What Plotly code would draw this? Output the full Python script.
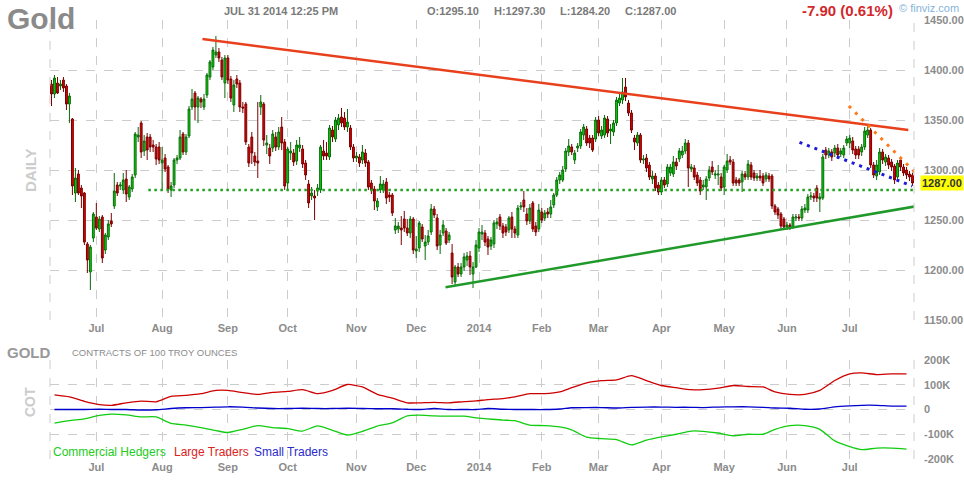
import pandas as pd
import plotly.graph_objects as go

# trading days shown on the chart (weekdays minus exchange holidays)
holidays = ['2013-07-04', '2013-09-02', '2013-11-28', '2013-12-25', '2014-01-01',
            '2014-01-20', '2014-02-17', '2014-04-18', '2014-05-26', '2014-07-04']
dates = pd.bdate_range('2013-06-10', '2014-07-31')
dates = dates[~dates.isin(pd.to_datetime(holidays))]

opens = [1386, 1376, 1387, 1384, 1390, 1384, 1366, 1351, 1277, 1296,
         1282, 1277, 1226, 1198, 1232, 1253, 1241, 1253, 1220, 1233,
         1249, 1264, 1285, 1284, 1280, 1291, 1273, 1281, 1295, 1333,
         1347, 1319, 1333, 1333, 1325, 1323, 1323, 1307, 1312, 1303,
         1280, 1285, 1310, 1312, 1336, 1318, 1334, 1363, 1377, 1363,
         1371, 1363, 1375, 1393, 1403, 1415, 1418, 1410, 1387, 1412,
         1391, 1365, 1391, 1387, 1363, 1366, 1323, 1333, 1314, 1309,
         1363, 1366, 1325, 1322, 1322, 1333, 1323, 1343, 1328, 1287,
         1317, 1317, 1309, 1322, 1321, 1307, 1286, 1274, 1274, 1279,
         1280, 1319, 1317, 1313, 1340, 1331, 1345, 1353, 1352, 1343,
         1342, 1323, 1312, 1313, 1310, 1317, 1308, 1287, 1281, 1263,
         1280, 1280, 1288, 1275, 1275, 1240, 1241, 1242, 1251, 1242,
         1237, 1251, 1219, 1222, 1243, 1224, 1228, 1238, 1261, 1252,
         1225, 1237, 1239, 1230, 1217, 1188, 1203, 1196, 1203, 1210,
         1214, 1196, 1203, 1222, 1236, 1237, 1231, 1224, 1226, 1246,
         1253, 1244, 1243, 1240, 1253, 1241, 1235, 1263, 1270, 1256,
         1249, 1267, 1244, 1241, 1258, 1252, 1258, 1256, 1265, 1275,
         1290, 1290, 1301, 1318, 1323, 1310, 1322, 1324, 1335, 1341,
         1332, 1332, 1331, 1350, 1334, 1335, 1351, 1339, 1338, 1347,
         1367, 1370, 1383, 1367, 1357, 1332, 1327, 1335, 1310, 1312,
         1305, 1291, 1294, 1285, 1278, 1290, 1286, 1297, 1296, 1308,
         1311, 1315, 1319, 1327, 1301, 1302, 1295, 1290, 1283, 1283,
         1292, 1303, 1295, 1295, 1293, 1283, 1300, 1310, 1308, 1290,
         1290, 1288, 1296, 1293, 1305, 1297, 1292, 1294, 1294, 1291,
         1294, 1294, 1264, 1261, 1256, 1251, 1243, 1245, 1243, 1252,
         1253, 1252, 1260, 1260, 1273, 1274, 1282, 1271, 1272, 1320,
         1315, 1318, 1317, 1322, 1316, 1315, 1327, 1327, 1329, 1321,
         1321, 1318, 1323, 1335, 1340, 1305, 1294, 1298, 1318, 1308,
         1312, 1308, 1304, 1293, 1310, 1303, 1300, 1296, 1295.1]

highs = [1390, 1395, 1393, 1390, 1393, 1386, 1377, 1352, 1302, 1300,
         1285, 1278, 1228, 1225, 1258, 1267, 1254, 1255, 1237, 1250,
         1257, 1297, 1288, 1288, 1297, 1300, 1285, 1296, 1338, 1343,
         1349, 1335, 1337, 1336, 1330, 1326, 1328, 1323, 1316, 1305,
         1288, 1312, 1315, 1340, 1338, 1336, 1364, 1381, 1379, 1374,
         1373, 1376, 1397, 1410, 1423, 1434, 1422, 1413, 1415, 1415,
         1394, 1390, 1395, 1390, 1368, 1368, 1326, 1338, 1318, 1368,
         1375, 1368, 1335, 1326, 1340, 1338, 1343, 1353, 1331, 1323,
         1328, 1321, 1330, 1333, 1325, 1310, 1290, 1283, 1280, 1286,
         1325, 1330, 1328, 1345, 1344, 1353, 1356, 1362, 1358, 1361,
         1345, 1326, 1318, 1316, 1325, 1321, 1310, 1290, 1284, 1272,
         1294, 1290, 1292, 1278, 1277, 1252, 1248, 1254, 1259, 1251,
         1254, 1253, 1234, 1249, 1246, 1235, 1240, 1266, 1264, 1256,
         1240, 1250, 1242, 1238, 1226, 1205, 1207, 1207, 1217, 1218,
         1219, 1208, 1230, 1242, 1245, 1240, 1234, 1233, 1250, 1252,
         1256, 1247, 1246, 1254, 1258, 1244, 1265, 1268, 1279, 1262,
         1266, 1269, 1248, 1266, 1262, 1260, 1262, 1270, 1277, 1293,
         1298, 1304, 1322, 1331, 1326, 1320, 1327, 1341, 1346, 1344,
         1335, 1335, 1353, 1354, 1344, 1355, 1354, 1346, 1350, 1373,
         1376, 1392, 1392, 1370, 1360, 1335, 1338, 1337, 1315, 1316,
         1308, 1299, 1297, 1288, 1293, 1293, 1306, 1306, 1314, 1312,
         1322, 1324, 1331, 1330, 1306, 1305, 1298, 1293, 1290, 1294,
         1304, 1309, 1300, 1305, 1297, 1305, 1316, 1314, 1311, 1293,
         1292, 1299, 1299, 1310, 1308, 1300, 1297, 1300, 1297, 1298,
         1297, 1296, 1266, 1263, 1258, 1253, 1248, 1247, 1256, 1256,
         1256, 1264, 1266, 1276, 1278, 1277, 1285, 1277, 1316, 1323,
         1322, 1321, 1325, 1326, 1322, 1325, 1334, 1335, 1333, 1324,
         1324, 1326, 1343, 1346, 1342, 1308, 1310, 1322, 1321, 1316,
         1315, 1311, 1306, 1310, 1312, 1306, 1303, 1299, 1297.3]

lows = [1364, 1372, 1376, 1380, 1378, 1360, 1347, 1275, 1268, 1275,
        1262, 1225, 1197, 1180, 1228, 1240, 1238, 1207, 1216, 1230,
        1243, 1261, 1274, 1280, 1276, 1268, 1270, 1278, 1292, 1328,
        1312, 1314, 1310, 1318, 1318, 1305, 1306, 1281, 1298, 1277,
        1273, 1282, 1306, 1310, 1315, 1315, 1332, 1360, 1350, 1347,
        1362, 1360, 1372, 1390, 1400, 1412, 1408, 1390, 1372, 1386,
        1368, 1358, 1382, 1358, 1357, 1325, 1303, 1306, 1304, 1292,
        1355, 1324, 1316, 1306, 1318, 1319, 1320, 1320, 1280, 1280,
        1310, 1304, 1305, 1318, 1302, 1290, 1262, 1270, 1250, 1274,
        1277, 1310, 1310, 1310, 1328, 1328, 1340, 1343, 1340, 1338,
        1320, 1308, 1308, 1303, 1306, 1303, 1280, 1276, 1260, 1259,
        1277, 1277, 1266, 1268, 1254, 1236, 1237, 1225, 1238, 1234,
        1232, 1216, 1212, 1218, 1228, 1210, 1225, 1235, 1252, 1220,
        1216, 1234, 1225, 1227, 1186, 1185, 1193, 1193, 1199, 1204,
        1195, 1182, 1202, 1218, 1230, 1224, 1215, 1220, 1222, 1241,
        1240, 1232, 1234, 1237, 1232, 1232, 1232, 1260, 1258, 1245,
        1246, 1238, 1234, 1238, 1247, 1249, 1252, 1252, 1262, 1273,
        1286, 1288, 1298, 1314, 1315, 1306, 1318, 1321, 1330, 1324,
        1322, 1318, 1328, 1334, 1331, 1332, 1333, 1326, 1334, 1344,
        1364, 1366, 1369, 1354, 1337, 1320, 1324, 1307, 1306, 1298,
        1290, 1286, 1279, 1275, 1275, 1282, 1283, 1294, 1293, 1300,
        1308, 1312, 1316, 1283, 1298, 1290, 1284, 1275, 1280, 1270,
        1289, 1295, 1291, 1285, 1279, 1275, 1297, 1305, 1284, 1284,
        1284, 1278, 1290, 1290, 1290, 1289, 1289, 1289, 1284, 1288,
        1288, 1261, 1255, 1251, 1241, 1240, 1240, 1240, 1241, 1249,
        1249, 1249, 1257, 1257, 1270, 1268, 1268, 1258, 1270, 1311,
        1312, 1309, 1313, 1311, 1313, 1312, 1324, 1322, 1316, 1311,
        1311, 1314, 1320, 1332, 1302, 1292, 1290, 1295, 1306, 1304,
        1301, 1299, 1286, 1290, 1299, 1294, 1291, 1289, 1284.2]

closes = [1376, 1392, 1377, 1386, 1382, 1366, 1374, 1284, 1292, 1277,
          1274, 1228, 1210, 1223, 1256, 1242, 1251, 1212, 1235, 1246,
          1246, 1279, 1277, 1285, 1290, 1276, 1283, 1293, 1336, 1335,
          1318, 1329, 1320, 1323, 1323, 1311, 1310, 1310, 1301, 1281,
          1284, 1310, 1312, 1333, 1318, 1333, 1361, 1371, 1363, 1372,
          1368, 1371, 1395, 1408, 1420, 1418, 1412, 1393, 1412, 1390,
          1372, 1385, 1386, 1363, 1362, 1328, 1307, 1317, 1308, 1307,
          1368, 1330, 1327, 1314, 1336, 1323, 1338, 1327, 1284, 1321,
          1319, 1308, 1325, 1325, 1306, 1295, 1267, 1277, 1272, 1282,
          1323, 1314, 1314, 1342, 1333, 1350, 1352, 1347, 1343, 1348,
          1323, 1312, 1314, 1307, 1318, 1307, 1283, 1280, 1269, 1269,
          1286, 1286, 1272, 1273, 1257, 1244, 1244, 1240, 1242, 1237,
          1251, 1220, 1221, 1247, 1231, 1228, 1234, 1261, 1255, 1224,
          1235, 1245, 1227, 1235, 1193, 1203, 1196, 1203, 1213, 1214,
          1203, 1203, 1225, 1238, 1238, 1228, 1223, 1230, 1247, 1248,
          1244, 1237, 1238, 1252, 1241, 1237, 1262, 1264, 1263, 1249,
          1262, 1241, 1238, 1260, 1250, 1257, 1256, 1263, 1275, 1290,
          1295, 1300, 1319, 1324, 1318, 1317, 1324, 1338, 1343, 1327,
          1327, 1320, 1350, 1337, 1340, 1352, 1337, 1341, 1347, 1370,
          1372, 1378, 1373, 1357, 1340, 1328, 1335, 1310, 1311, 1302,
          1293, 1294, 1282, 1278, 1290, 1285, 1303, 1303, 1308, 1304,
          1319, 1319, 1327, 1302, 1303, 1293, 1287, 1279, 1285, 1291,
          1300, 1298, 1296, 1296, 1282, 1303, 1309, 1308, 1287, 1287,
          1287, 1296, 1293, 1306, 1293, 1292, 1294, 1292, 1287, 1295,
          1291, 1264, 1258, 1255, 1244, 1243, 1245, 1243, 1253, 1253,
          1252, 1261, 1262, 1273, 1274, 1272, 1272, 1273, 1313, 1315,
          1319, 1313, 1322, 1315, 1319, 1322, 1331, 1332, 1320, 1315,
          1315, 1323, 1339, 1340, 1305, 1295, 1305, 1318, 1310, 1313,
          1305, 1303, 1290, 1307, 1303, 1297, 1295, 1293, 1287]

month_labels = ['Jul', 'Aug', 'Sep', 'Oct', 'Nov', 'Dec', '2014',
                'Feb', 'Mar', 'Apr', 'May', 'Jun', 'Jul']
price_ticks = [1150, 1200, 1250, 1300, 1350, 1400, 1450]

# trend lines drawn on the chart: bar number / price at both ends
resist_x, resist_y = [50.5, 286.6], [1431, 1340]
support_x, support_y = [131.8, 293.6], [1182.7, 1266]
level_x, level_y = [32.4, 291.3], [1280, 1280]
blue_x, blue_y = [250.2, 287.9], [1327.7, 1284]
orange_x, orange_y = [266.7, 293.3], [1364, 1284.3]

# weekly commitments of traders, thousands of contracts
cot_dates = ['2013-06-11', '2013-06-18', '2013-06-25', '2013-07-02', '2013-07-09',
             '2013-07-16', '2013-07-23', '2013-07-30', '2013-08-06', '2013-08-13',
             '2013-08-20', '2013-08-27', '2013-09-03', '2013-09-10', '2013-09-17',
             '2013-09-24', '2013-10-01', '2013-10-08', '2013-10-15', '2013-10-22',
             '2013-10-29', '2013-11-05', '2013-11-12', '2013-11-19', '2013-11-26',
             '2013-12-03', '2013-12-10', '2013-12-17', '2013-12-24', '2013-12-31',
             '2014-01-07', '2014-01-14', '2014-01-21', '2014-01-28', '2014-02-04',
             '2014-02-11', '2014-02-18', '2014-02-25', '2014-03-04', '2014-03-11',
             '2014-03-18', '2014-03-25', '2014-04-01', '2014-04-08', '2014-04-15',
             '2014-04-22', '2014-04-29', '2014-05-06', '2014-05-13', '2014-05-20',
             '2014-05-27', '2014-06-03', '2014-06-10', '2014-06-17', '2014-06-24',
             '2014-07-01', '2014-07-08', '2014-07-15', '2014-07-22', '2014-07-29']
large_traders = [59, 51, 33, 20, 17, 27, 34, 31, 53, 57, 64, 77, 77, 68, 61, 69, 73, 80, 64, 77,
                 101, 91, 61, 46, 27, 27, 29, 27, 32, 35, 40, 44, 51, 64, 64, 71, 88, 108, 117, 120,
                 137, 117, 97, 88, 80, 80, 86, 97, 93, 91, 71, 61, 61, 77, 117, 144, 148, 141, 144, 144]
small_traders = [0, 0, 0, 1, 0, 0, -2, -1, 4, 7, 8, 10, 11, 10, 6, 4, 4, 5, 4, 4,
                 5, 4, 3, 3, 1, 0, 4, 0, 0, 0, 4, 1, 0, 0, 0, 2, 7, 8, 8, 6,
                 9, 10, 10, 9, 9, 8, 10, 11, 11, 9, 6, 5, 1, 2, 11, 15, 17, 17, 14, 14]
commercials = [-55, -45, -38, -24, -19, -22, -30, -30, -56, -63, -73, -85, -93, -80, -65, -73, -77, -87, -66, -84,
               -103, -88, -67, -54, -26, -23, -26, -27, -27, -34, -38, -43, -45, -63, -65, -70, -82, -112, -118, -122,
               -143, -124, -111, -100, -87, -88, -95, -106, -100, -100, -80, -65, -65, -80, -127, -150, -162, -156, -156, -160]
cot_ticks = [-200, -100, 0, 100, 200]
cot_labels = ['-200K', '-100K', '0', '100K', '200K']

bars = list(range(len(closes)))
month_pos = [i for i in range(1, len(dates)) if dates[i].month != dates[i - 1].month]
cot_pos = [dates.get_loc(pd.Timestamp(d)) for d in cot_dates]

FONT = 'Liberation Sans'
GRID = '#cccccc'

fig = go.Figure()
fig.add_trace(go.Candlestick(
    x=bars, open=opens, high=highs, low=lows, close=closes,
    increasing=dict(line=dict(color='#0a6a0a', width=1), fillcolor='#00d800'),
    decreasing=dict(line=dict(color='#7a0000', width=1), fillcolor='#e00000'),
    whiskerwidth=0, hoverinfo='skip', showlegend=False))

def trend(xs, ys, color, width, dash='solid'):
    fig.add_trace(go.Scatter(x=xs, y=ys, mode='lines', showlegend=False, hoverinfo='skip',
                             line=dict(color=color, width=width, dash=dash)))

trend(resist_x, resist_y, '#e8401c', 2.5)
trend(support_x, support_y, '#1f9a2a', 2.5)
trend(level_x, level_y, '#1fa01f', 2.5, '2.5px,3.5px')
trend(blue_x, blue_y, '#1c1cd8', 3, '3px,5px')
trend(orange_x, orange_y, '#ff7a1a', 3, '3px,6px')

for vals, color in [(commercials, '#11cc11'), (large_traders, '#cc0000'), (small_traders, '#0000cc')]:
    fig.add_trace(go.Scatter(x=cot_pos, y=vals, mode='lines', xaxis='x2', yaxis='y2',
                             line=dict(color=color, width=1.3, shape='spline', smoothing=0.6),
                             showlegend=False, hoverinfo='skip'))

tickfont = dict(family=FONT, size=11, color='#8c8c8c', weight='bold')
xcommon = dict(range=[-0.5, len(bars) - 0.5], tickvals=month_pos, ticktext=month_labels,
               showgrid=True, gridcolor=GRID, griddash='dash', gridwidth=1, zeroline=False,
               ticks='', tickfont=tickfont, showline=False, fixedrange=True, automargin=False)
ycommon = dict(side='right', showgrid=True, gridcolor=GRID, griddash='dash', gridwidth=1,
               zeroline=False, ticks='', tickfont=tickfont, ticklabelstandoff=9, showline=False,
               automargin=False)

fig.update_layout(
    width=964, height=480,
    margin=dict(l=50, r=50, t=20, b=21, autoexpand=False),
    paper_bgcolor='white', plot_bgcolor='white',
    font=dict(family=FONT),
    boxgap=0.12,
    xaxis=dict(domain=[0, 1], anchor='y', rangeslider=dict(visible=False), **xcommon),
    yaxis=dict(domain=[0.3166, 1], anchor='x', range=[1150, 1450], tickvals=price_ticks,
               ticktext=['%.2f' % v for v in price_ticks], **ycommon),
    xaxis2=dict(domain=[0, 1], anchor='y2', **xcommon),
    yaxis2=dict(domain=[0, 0.2255], anchor='x2', range=[-200, 200], tickvals=cot_ticks,
                ticktext=cot_labels, **ycommon),
)

# dashed frame sides
for xr, yr in [('x domain', 'y domain'), ('x2 domain', 'y2 domain')]:
    for xv in (0, 1):
        fig.add_shape(type='line', xref=xr, yref=yr, x0=xv, x1=xv, y0=0, y1=1,
                      line=dict(color=GRID, width=1, dash='dash'))


def fx(px):
    return (px - 50) / 864


def fy(py):
    return (459 - py) / 439


def label(text, x, y, size, color, bold=True, anchor='left', angle=0):
    fig.add_annotation(text=text, xref='paper', yref='paper', x=fx(x), y=fy(y),
                       xanchor=anchor, yanchor='middle', showarrow=False, textangle=angle,
                       font=dict(family=FONT, size=size, color=color,
                                 weight='bold' if bold else 'normal'))


label('Gold', 5, 19, 30, '#8a8a8a')
label('JUL 31 2014 12:25 PM', 222, 11, 11, '#7a7a7a')
label('O:1295.10', 425, 11, 11, '#7a7a7a')
label('H:1297.30', 492, 11, 11, '#7a7a7a')
label('L:1284.20', 558, 11, 11, '#7a7a7a')
label('C:1287.00', 623, 11, 11, '#7a7a7a')
label('-7.90 (0.61%)', 800, 11, 15, '#d2282c')
label('© finviz.com', 897, 8, 11, '#86b4dc', bold=False)
label('DAILY', 30, 170, 15, '#cccccc', anchor='center', angle=-90)
label('GOLD', 5, 352, 15, '#999999')
label('CONTRACTS OF 100 TROY OUNCES', 70, 352, 9.5, '#8c8c8c', bold=False)
label('COT', 30, 402, 14, '#cccccc', anchor='center', angle=-90)
label('Commercial Hedgers', 51, 452, 12, '#22cc22', bold=False)
label('Large Traders', 172, 452, 12, '#dd2222', bold=False)
label('Small Traders', 252, 452, 12, '#2a2acc', bold=False)

fig.add_annotation(text='1287.00', xref='paper', yref='y', x=1, y=closes[-1], xanchor='left',
                   yanchor='middle', xshift=6, showarrow=False, bgcolor='#ffff00', borderpad=1,
                   font=dict(family=FONT, size=11, color='#333333', weight='bold'))

# drop the browser's default page margin so the figure fills the window
fig.write_html('out.html', config={'displayModeBar': False},
               post_script="document.body.style.margin='0';")
